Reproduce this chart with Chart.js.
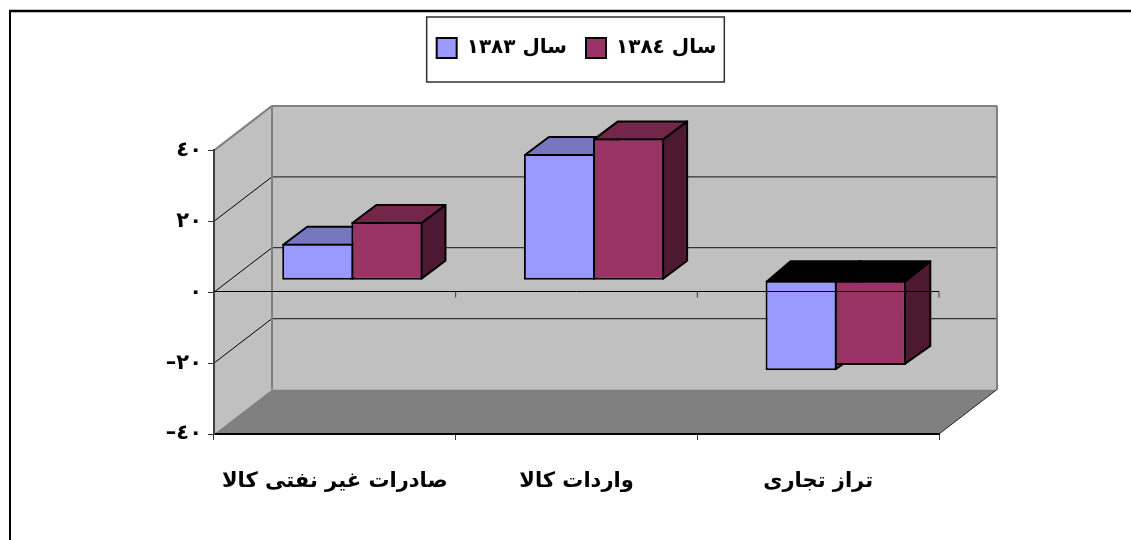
<!DOCTYPE html>
<html>
<head>
<meta charset="utf-8">
<script src="https://cdn.jsdelivr.net/npm/chart.js@4"></script>
<style>
  html, body { margin: 0; padding: 0; background: #fff; }
  canvas { display: block; }
</style>
</head>
<body>
<canvas id="chart3d" width="1131" height="540"></canvas>
<script>
const categories = ['صادرات غیر نفتی کالا', 'واردات کالا', 'تراز تجاری'];
const seriesNames = ['سال ١٣٨٣', 'سال ١٣٨٤'];
const values1383 = [10.3, 35.6, -25.4];
const values1384 = [16.4, 40, -23.9];
const yTickLabels = ['–٤٠', '–٢٠', '٠', '٢٠', '٤٠'];

const fontName = '"DejaVu Sans", sans-serif';

// how far the back wall and the bars sit behind the front plane
const wallDx = 58, wallDy = 44.5;
const barShiftX = 17.5, barShiftY = -12;
const barDepthX = 24, barDepthY = -18;

function face(ctx, points, fill, stroke, width) {
  ctx.beginPath();
  points.forEach((p, i) => i ? ctx.lineTo(p[0], p[1]) : ctx.moveTo(p[0], p[1]));
  ctx.closePath();
  if (fill) { ctx.fillStyle = fill; ctx.fill(); }
  if (stroke) { ctx.strokeStyle = stroke; ctx.lineWidth = width; ctx.lineJoin = 'round'; ctx.stroke(); }
}

function line(ctx, x1, y1, x2, y2, color, width) {
  ctx.beginPath();
  ctx.moveTo(x1, y1);
  ctx.lineTo(x2, y2);
  ctx.strokeStyle = color;
  ctx.lineWidth = width;
  ctx.stroke();
}

const walls3d = {
  id: 'walls3d',
  beforeDraw(chart) {
    const ctx = chart.ctx;
    const a = chart.chartArea;
    const y = chart.scales.y;
    ctx.save();

    // outer frame, cut by the right and bottom of the picture
    line(ctx, 9, 11, 1131, 11, '#000', 2.5);
    line(ctx, 10, 10, 10, 540, '#000', 2);

    // legend box
    const boxes = chart.legend.legendHitBoxes;
    const bl = boxes[0].left - 10;
    const br = boxes[boxes.length - 1].left + boxes[boxes.length - 1].width + 8;
    ctx.strokeStyle = '#303030';
    ctx.lineWidth = 1.5;
    ctx.strokeRect(bl, 17, br - bl, 65);

    // walls and floor
    face(ctx, [[a.left, a.top], [a.left + wallDx, a.top - wallDy], [a.left + wallDx, a.bottom - wallDy], [a.left, a.bottom]], '#c0c0c0');
    face(ctx, [[a.left + wallDx, a.top - wallDy], [a.right + wallDx, a.top - wallDy], [a.right + wallDx, a.bottom - wallDy], [a.left + wallDx, a.bottom - wallDy]], '#c0c0c0');
    face(ctx, [[a.left, a.bottom], [a.right, a.bottom], [a.right + wallDx, a.bottom - wallDy], [a.left + wallDx, a.bottom - wallDy]], '#808080');

    // gridlines run over the side wall and along the back wall
    y.ticks.forEach(t => {
      if (t.value === y.min || t.value === y.max) return;
      const py = y.getPixelForValue(t.value);
      line(ctx, a.left, py, a.left + wallDx, py - wallDy, '#000', 1);
      line(ctx, a.left + wallDx, py - wallDy, a.right + wallDx, py - wallDy, '#333', 1.2);
    });

    // wall edges
    line(ctx, a.left, a.top, a.left + wallDx, a.top - wallDy, '#808080', 2);
    line(ctx, a.left + wallDx, a.top - wallDy, a.right + wallDx, a.top - wallDy, '#808080', 2);
    line(ctx, a.left + wallDx, a.top - wallDy, a.left + wallDx, a.bottom - wallDy, '#808080', 2);
    line(ctx, a.right + wallDx, a.top - wallDy, a.right + wallDx, a.bottom - wallDy, '#808080', 2);
    line(ctx, a.right, a.bottom, a.right + wallDx, a.bottom - wallDy, '#222', 1);
    ctx.restore();
  },
  beforeDatasetsDraw(chart) {
    // top and side faces first, blue then red, so the front faces cover them
    const ctx = chart.ctx;
    ctx.save();
    ctx.translate(barShiftX, barShiftY);
    chart.data.datasets.forEach((ds, index) => {
      chart.getDatasetMeta(index).data.forEach((bar, i) => {
        const p = bar.getProps(['x', 'y', 'base', 'width'], true);
        const l = p.x - p.width / 2;
        const r = p.x + p.width / 2;
        const top = Math.min(p.y, p.base);
        const bottom = Math.max(p.y, p.base);
        // the black cap of the negative bars looks a little deeper
        const negative = ds.data[i] < 0;
        const topColor = negative ? '#000' : ds.topColor;
        const capX = negative ? barDepthX + 1.5 : barDepthX;
        const capY = negative ? barDepthY - 2.5 : barDepthY;
        face(ctx, [[r - 1, top + 1], [r - 1 + capX, top + 1 + capY], [r - 1 + capX, bottom - 1 + barDepthY], [r - 1, bottom - 1]], ds.sideColor, '#000', 2);
        face(ctx, [[l + 1, top + 1], [l + 1 + barDepthX, top + 1 + capY], [r - 1 + capX, top + 1 + capY], [r - 1, top + 1]], topColor, '#000', 2);
      });
    });
    ctx.restore();
  },
  beforeDatasetDraw(chart) {
    chart.ctx.save();
    chart.ctx.translate(barShiftX, barShiftY);
  },
  afterDatasetDraw(chart) {
    chart.ctx.restore();
  },
  afterDatasetsDraw(chart) {
    // the zero line stays on top of the bars
    const ctx = chart.ctx;
    const a = chart.chartArea;
    const x = chart.scales.x;
    const y0 = Math.round(chart.scales.y.getPixelForValue(0)) - 0.5;
    ctx.save();
    line(ctx, a.left, y0, a.right, y0, '#000', 1);
    categories.forEach((c, i) => {
      const edge = x.getPixelForValue(i) + (x.getPixelForValue(1) - x.getPixelForValue(0)) / 2;
      line(ctx, edge, y0, edge, y0 + 6, '#333', 1);
    });
    ctx.restore();
  }
};

new Chart(document.getElementById('chart3d'), {
  type: 'bar',
  data: {
    labels: categories,
    datasets: [{
      label: seriesNames[0],
      data: values1383,
      backgroundColor: '#9999ff',
      borderColor: '#000',
      topColor: '#7777bf',
      sideColor: '#4d4d80'
    }, {
      label: seriesNames[1],
      data: values1384,
      backgroundColor: '#993366',
      borderColor: '#000',
      topColor: '#732649',
      sideColor: '#4d1933'
    }]
  },
  plugins: [walls3d],
  options: {
    responsive: false,
    animation: false,
    layout: { padding: { top: 19, right: 192 } },
    datasets: {
      bar: {
        borderWidth: 2,
        borderSkipped: false,
        categoryPercentage: 0.572,
        barPercentage: 1.029, // neighbours share one border
        clip: false
      }
    },
    scales: {
      x: {
        grid: { offset: true, drawOnChartArea: false, tickLength: 6, color: '#333' },
        border: { color: '#000', width: 2 },
        ticks: { color: '#000', padding: 29, maxRotation: 0, autoSkip: false, font: { family: fontName, size: 21, weight: 'bold' } },
        afterFit(scale) { scale.height = 106; }
      },
      y: {
        min: -40,
        max: 40,
        grid: { drawOnChartArea: false, tickLength: 6, color: '#333' },
        border: { color: '#404040', width: 2 },
        ticks: {
          stepSize: 20,
          color: '#000',
          padding: 6,
          font: { family: fontName, size: 21, weight: 'bold' },
          callback: (value, index) => yTickLabels[index]
        },
        afterFit(scale) { scale.width = 214; }
      }
    },
    plugins: {
      tooltip: { enabled: false },
      // empty title only keeps the gap between the legend and the plot
      title: { display: true, text: '', weight: 500, padding: { top: 0, bottom: 68 }, font: { size: 12 } },
      legend: {
        position: 'top',
        fullSize: false,
        labels: {
          color: '#000',
          boxWidth: 20,
          boxHeight: 20,
          padding: 19,
          font: { family: fontName, size: 20, weight: 'bold' }
        }
      }
    }
  }
});
</script>
</body>
</html>
